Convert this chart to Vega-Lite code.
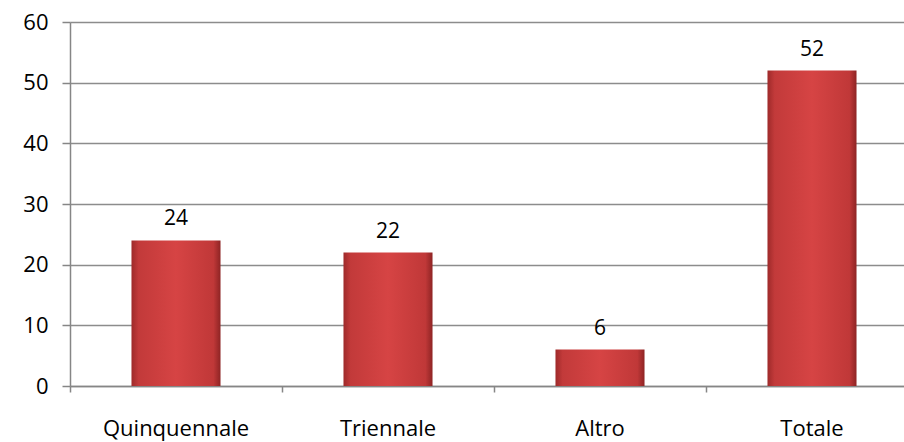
{
  "$schema": "https://vega.github.io/schema/vega-lite/v6.json",
  "width": 848,
  "height": 364,
  "autosize": {"type": "none"},
  "padding": {"left": 70, "top": 22, "right": 0, "bottom": 56},
  "background": "white",
  "config": {
    "view": {"stroke": null},
    "font": "Open Sans",
    "axis": {"labelFont": "Open Sans", "labelColor": "#000000", "labelFontSize": 22, "domainColor": "#868686", "tickColor": "#868686", "gridColor": "#8c8c8c", "domainWidth": 1.5, "tickWidth": 1.5}
  },
  "data": {"values": [
    {"categoria": "Quinquennale", "valore": 24},
    {"categoria": "Triennale", "valore": 22},
    {"categoria": "Altro", "valore": 6},
    {"categoria": "Totale", "valore": 52}
  ]},
  "encoding": {
    "x": {"field": "categoria", "type": "nominal", "sort": null,
      "scale": {"paddingInner": 0, "paddingOuter": 0},
      "axis": {"title": null, "labelAngle": 0, "bandPosition": 0, "tickSize": 6, "labelPadding": 26, "grid": false}},
    "y": {"field": "valore", "type": "quantitative",
      "scale": {"domain": [0, 60], "nice": false},
      "axis": {"title": null, "values": [0, 10, 20, 30, 40, 50, 60], "tickSize": 8, "labelPadding": 14, "grid": true, "gridWidth": 1.5}}
  },
  "layer": [
    {
      "mark": {"type": "bar", "width": {"band": 0.42},
        "fill": {"gradient": "linear", "x1": 0, "x2": 1, "y1": 0, "y2": 0,
          "stops": [
            {"offset": 0, "color": "#9e2a2a"},
            {"offset": 0.08, "color": "#c23a3a"},
            {"offset": 0.5, "color": "#d64444"},
            {"offset": 0.92, "color": "#c03838"},
            {"offset": 1, "color": "#8e2424"}
          ]}}
    },
    {
      "mark": {"type": "text", "baseline": "bottom", "dy": -11, "fontSize": 21, "font": "Open Sans", "color": "#000000"},
      "encoding": {"text": {"field": "valore", "type": "quantitative"}}
    }
  ]
}
